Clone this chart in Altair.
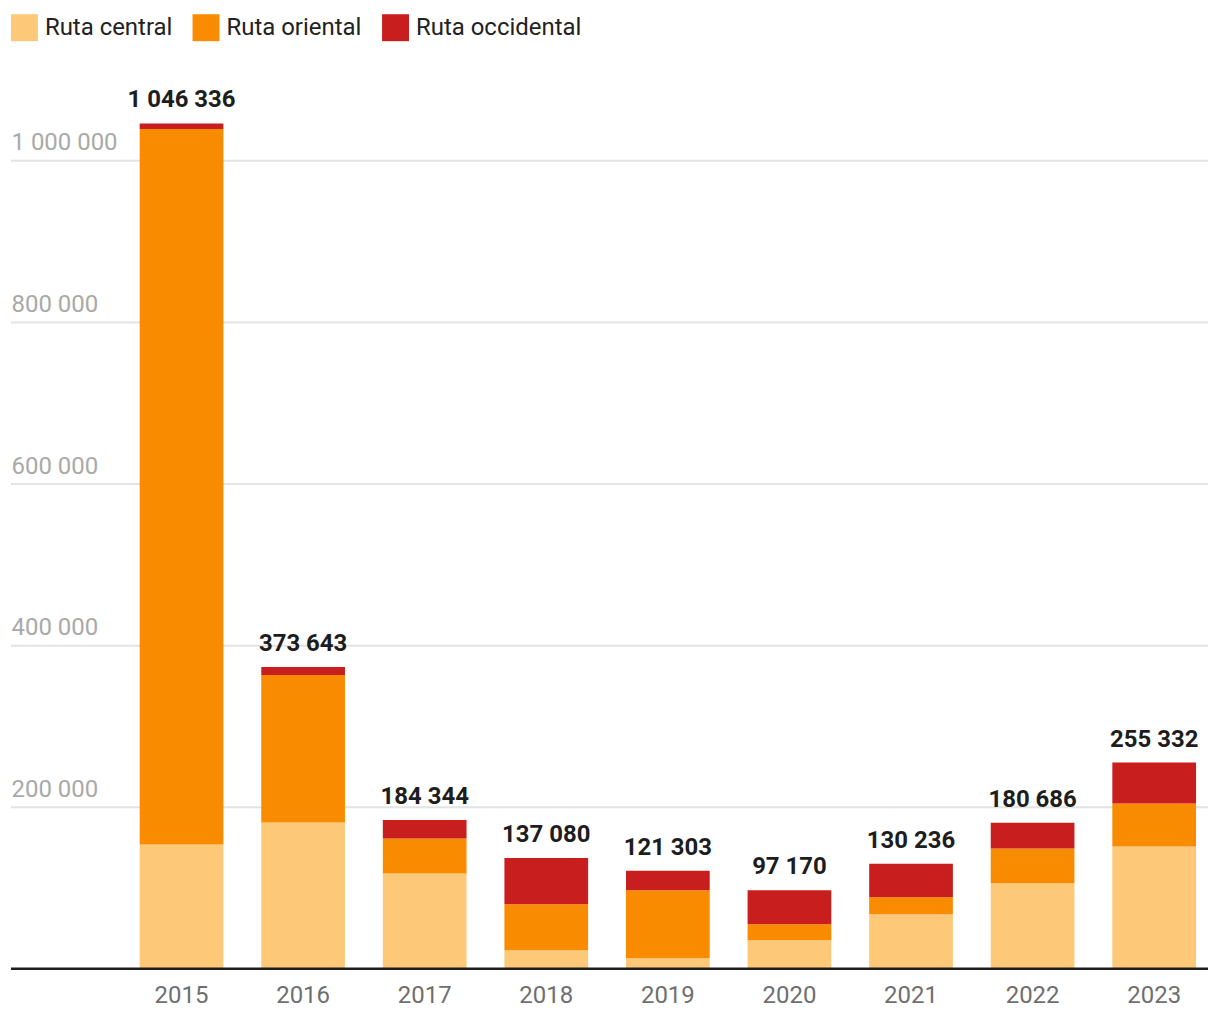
import altair as alt
import pandas as pd

years = ["2015", "2016", "2017", "2018", "2019", "2020", "2021", "2022", "2023"]
central = [153900, 181100, 118100, 23100, 13200, 35400, 67500, 105800, 151500]
oriental = [885600, 182700, 43300, 56800, 84000, 19800, 21000, 43200, 53100]
occidental = [6836, 9843, 22944, 57180, 24103, 41970, 41736, 31686, 50732]
totals = [1046336, 373643, 184344, 137080, 121303, 97170, 130236, 180686, 255332]
series = ["Ruta central", "Ruta oriental", "Ruta occidental"]
colors = ["#fdc978", "#f88b00", "#c91e1e"]
y_ticks = [200000, 400000, 600000, 800000, 1000000]

rows = []
for i, y in enumerate(years):
    for k, (name, vals) in enumerate(zip(series, [central, oriental, occidental])):
        rows.append({"year": y, "serie": name, "value": vals[i], "ord": k})
df = pd.DataFrame(rows)
tot = pd.DataFrame({"year": years, "total": totals})
base_df = pd.DataFrame({"v": [0]})
grid_df = pd.DataFrame({"v": y_ticks})

W, H = 1200, 891
xscale = alt.Scale(domain=years, range=[129, 1188], paddingInner=0.3115, paddingOuter=0)
yscale = alt.Scale(domain=[0, 1100000], nice=False)

grid = alt.Chart(grid_df).mark_rule(color="#e3e3e3", strokeWidth=2).encode(
    y=alt.Y("v:Q", scale=yscale,
            axis=alt.Axis(title=None, values=y_ticks, format=",d", domain=False, grid=False,
                          ticks=False, tickSize=0, labelPadding=0, labelAlign="left",
                          labelBaseline="alphabetic", labelOffset=-11,
                          labelFontSize=24, labelColor="#a9a9a9", labelFont="Roboto")),
    x=alt.value(0), x2=alt.value(W),
)

bars = alt.Chart(df).mark_bar(stroke=None).encode(
    x=alt.X("year:N", scale=xscale, sort=years,
            axis=alt.Axis(title=None, domain=False, ticks=False, grid=False, labelPadding=15,
                          labelFontSize=24, labelColor="#6f6f6f", labelAngle=0,
                          labelFont="Roboto")),
    y=alt.Y("value:Q", stack="zero", scale=yscale),
    color=alt.Color("serie:N", scale=alt.Scale(domain=series, range=colors),
                    legend=alt.Legend(title=None, orient="top", direction="horizontal",
                                      symbolType="square", symbolSize=729,
                                      symbolStrokeWidth=0, labelFontSize=24,
                                      labelFont="Roboto", labelColor="#222222",
                                      labelLimit=400,
                                      labelOffset=7, columnPadding=20, offset=39)),
    order=alt.Order("ord:Q", sort="ascending"),
)

labels = alt.Chart(tot).mark_text(fontWeight="bold", fontSize=24, font="Roboto",
                                  color="#1d1d1d", dy=-16, baseline="alphabetic").encode(
    x=alt.X("year:N", scale=xscale, sort=years),
    y=alt.Y("total:Q", scale=yscale),
    text=alt.Text("total:Q", format=",d"),
)

baseline = alt.Chart(base_df).mark_rule(color="#1d1d1d", strokeWidth=2.5).encode(
    y=alt.Y("v:Q", scale=yscale),
    x=alt.value(0), x2=alt.value(W),
)

chart = alt.layer(grid, bars, baseline, labels).properties(
    width=W, height=H, padding={"left": 1, "top": 5, "right": 2, "bottom": 2}
).configure(
    locale={"number": {"decimal": ",", "thousands": " ", "grouping": [3], "currency": ["", " €"]}}
).configure_view(stroke=None)

chart.save("out.html", embed_options={"renderer": "svg", "actions": False})
